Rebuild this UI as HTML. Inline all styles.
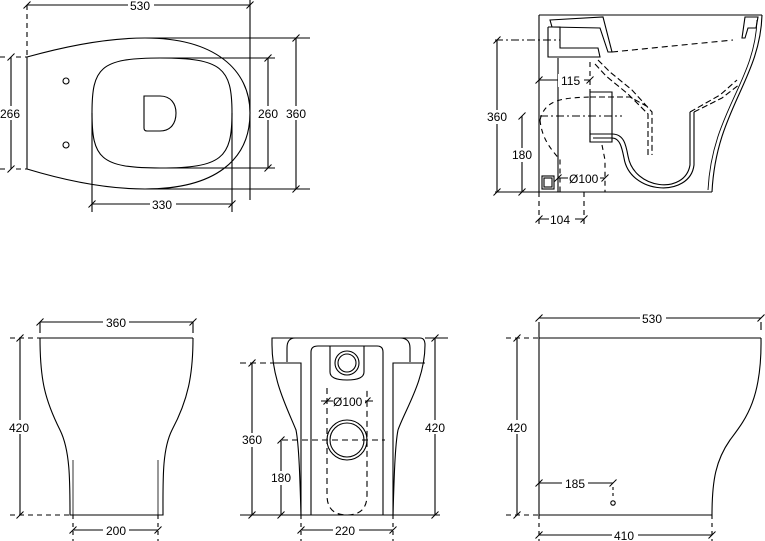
<!DOCTYPE html>
<html><head><meta charset="utf-8"><style>
html,body{margin:0;padding:0;background:#fff}
svg{display:block}
text{font-family:"Liberation Sans",Arial,sans-serif;font-size:12px;fill:#000}
</style></head><body>
<svg width="765" height="541" viewBox="0 0 765 541" xmlns="http://www.w3.org/2000/svg">
<defs><path id="t" d="M-3.5,3.5 L3.5,-3.5" stroke="#000" stroke-width="1"/></defs>
<g fill="none" stroke="#000" stroke-width="1.1">
<path d="M27,57 C70,45 110,38 145,38 C215,38 250,70 250,113 C250,160 215,189 145,189 C110,189 70,182 27,169 Z"/>
<path d="M92,113 C92,68 100,58 160,58 C222,58 232,68 232,113 C232,158 222,168 160,168 C100,168 92,158 92,113 Z"/>
<path d="M144,96 H160 C171,96 176,104 176,113 C176,123 171,131 160,131 H147 Q144,131 144,128 Z"/>
<circle cx="66" cy="81" r="3"/><circle cx="66" cy="145" r="3"/>
<path d="M27,5 V57" stroke-dasharray="5,4"/>
<path d="M27,5 H250 M250,0 V200"/>
<path d="M0,57 H8 M16,57 H27 M0,169 H8 M16,169 H27" stroke-dasharray="5,4"/>
<path d="M11,57 V169"/>
<path d="M160,58 H275 M160,168 H275 M268,58 V168"/>
<path d="M145,38 H310 M145,189 H310 M296,38 V189"/>
<path d="M92,113 V212 M232,113 V212 M92,204 H232"/>
<path d="M539,15 H762 M539,15 V192 M558,58 V192"/>
<path d="M762,15 C760,80 716,110 712,192"/>
<path d="M757,20 C755,82 712,112 708,190" stroke-width="0.9"/>
<path d="M550,20 L603,17 L612,52 L608,52 L600,28 L552,27 Z"/>
<path d="M745,17 L758,17 L756,28 L748,28 L745,38 L742,38 Z"/>
<path d="M548,27 H560 V48 H598 L600,57 H558 M548,27 V57 H558"/>
<path d="M612,52 L733,40" stroke-dasharray="6,4"/>
<path d="M590,130 V142 M590,134 H612 C624,134 626,145 628,156 C634,190 685,195 690,165 V112 M593,138 H612 C620,138 622,148 624,158 C630,195 690,198 694,165 V112"/>
<path d="M590,92 H612 V142 H590 Z"/>
<path d="M598,60 L610,72 L632,90 L652,112 V155 M595,64 L606,76 L628,94 L648,114 V155 M590,97 H630 L650,108" stroke-dasharray="6,3"/>
<path d="M690,112 L720,95 L737,80 M694,112 L722,98 L740,84" stroke-dasharray="6,3"/>
<path d="M540,120 C545,100 560,98 590,97 M540,120 C542,140 552,150 560,160 V192 M602,145 L605,160 V192 M590,62 V92" stroke-dasharray="5,4"/>
<rect x="542" y="176" width="12" height="13"/><rect x="544" y="178" width="8" height="9"/>
<path d="M495,40 H560 M540,116 H622" stroke-dasharray="8,3,2,3"/>
<path d="M495,192 H712"/>
<path d="M497,40 V192 M522,116 V192"/>
<path d="M539,80 H590 M558,178 H605"/>
<path d="M539,192 V225 M584,192 V225" stroke-dasharray="5,4"/>
<path d="M539,219 H584"/>
<path d="M40,338 H193 M40,338 C40,380 45,400 60,430 C70,450 70,480 70,515 H163 C163,480 162,450 172,430 C188,400 193,375 193,338"/>
<path d="M73,460 V515 M158,460 V515" stroke-width="0.8"/>
<path d="M40,322 H193 M40,322 V333 M193,322 V333"/>
<path d="M10,338 H40 M10,515 H70" stroke-dasharray="5,4"/>
<path d="M20,338 V515"/>
<path d="M73,515 V541 M158,515 V541" stroke-dasharray="4,4"/>
<path d="M73,530 H158"/>
<path d="M272,338 Q272,338 275,338 H420 Q425,338 425,345 C425,380 405,410 398,430 C395,445 394,480 393,515 H301 C300,480 299,445 296,430 C288,410 272,380 272,345 Z"/>
<path d="M287,362 V348 Q287,338 295,338 M410,362 V348 Q410,338 400,338 M272,363 H301 V515 M425,363 H393 V515"/>
<path d="M311,515 V352 Q311,346 318,346 H377 Q383,346 383,352 V515"/>
<path d="M330,346 V372 Q330,380 347,380 Q364,380 364,372 V346"/>
<circle cx="347" cy="363" r="12"/><circle cx="347" cy="363" r="9"/>
<circle cx="347" cy="440" r="20"/><circle cx="347" cy="440" r="17"/>
<path d="M327,388 V495 Q327,515 347,515 Q367,515 367,495 V388" stroke-dasharray="6,4"/>
<path d="M240,515 H440"/>
<path d="M240,363 H272 M282,440 H385" stroke-dasharray="6,4"/>
<path d="M425,338 H448 M252,363 V515 M281,440 V515 M435,338 V515"/>
<path d="M301,515 V541 M393,515 V541" stroke-dasharray="4,4"/>
<path d="M301,530 H393 M321,401 H373"/>
<path d="M539,338 H761 M539,338 V515 H712 M761,338 C762,400 745,420 730,440 C716,460 712,480 712,515"/>
<path d="M539,318 H761 M539,322 V338 M761,322 V330"/>
<path d="M506,338 H539 M506,515 H539" stroke-dasharray="5,4"/>
<path d="M517,338 V515"/>
<path d="M539,515 V541 M712,515 V541" stroke-dasharray="4,4"/>
<path d="M539,535 H712 M539,483 H613"/>
<path d="M613,487 V498" stroke-dasharray="3,3"/>
<circle cx="613" cy="503" r="2.2"/>
</g>
<g>
<use href="#t" x="27" y="5"/><use href="#t" x="250" y="5"/>
<use href="#t" x="11" y="57"/><use href="#t" x="11" y="169"/>
<use href="#t" x="268" y="58"/><use href="#t" x="268" y="168"/>
<use href="#t" x="296" y="38"/><use href="#t" x="296" y="189"/>
<use href="#t" x="92" y="204"/><use href="#t" x="232" y="204"/>
<use href="#t" x="497" y="40"/><use href="#t" x="497" y="192"/>
<use href="#t" x="522" y="116"/><use href="#t" x="522" y="192"/>
<use href="#t" x="539" y="80"/><use href="#t" x="590" y="80"/>
<use href="#t" x="558" y="178"/><use href="#t" x="605" y="178"/>
<use href="#t" x="539" y="219"/><use href="#t" x="584" y="219"/>
<use href="#t" x="40" y="322"/><use href="#t" x="193" y="322"/>
<use href="#t" x="20" y="338"/><use href="#t" x="20" y="515"/>
<use href="#t" x="73" y="530"/><use href="#t" x="158" y="530"/>
<use href="#t" x="252" y="363"/><use href="#t" x="252" y="515"/>
<use href="#t" x="281" y="440"/><use href="#t" x="281" y="515"/>
<use href="#t" x="435" y="338"/><use href="#t" x="435" y="515"/>
<use href="#t" x="301" y="530"/><use href="#t" x="393" y="530"/>
<use href="#t" x="327" y="401"/><use href="#t" x="367" y="401"/>
<use href="#t" x="539" y="318"/><use href="#t" x="761" y="318"/>
<use href="#t" x="517" y="338"/><use href="#t" x="517" y="515"/>
<use href="#t" x="539" y="535"/><use href="#t" x="712" y="535"/>
<use href="#t" x="539" y="483"/><use href="#t" x="613" y="483"/>
</g>
<g>
<rect x="128" y="0" width="26" height="12" fill="#fff"/><text x="130" y="10">530</text>
<rect x="0" y="106" width="22" height="14" fill="#fff"/><text x="0" y="118">266</text>
<rect x="257" y="106" width="22" height="14" fill="#fff"/><text x="258" y="118">260</text>
<rect x="285" y="106" width="24" height="14" fill="#fff"/><text x="286" y="118">360</text>
<rect x="150" y="198" width="26" height="13" fill="#fff"/><text x="152" y="209">330</text>
<rect x="485" y="110" width="24" height="14" fill="#fff"/><text x="487" y="121">360</text>
<rect x="511" y="148" width="22" height="14" fill="#fff"/><text x="512" y="159">180</text>
<rect x="558" y="74" width="26" height="13" fill="#fff"/><text x="561" y="85">115</text>
<rect x="568" y="172" width="32" height="13" fill="#fff"/><text x="569" y="183">Ø100</text>
<rect x="549" y="213" width="26" height="13" fill="#fff"/><text x="550" y="224">104</text>
<rect x="103" y="316" width="26" height="13" fill="#fff"/><text x="106" y="327">360</text>
<rect x="8" y="420" width="24" height="14" fill="#fff"/><text x="9" y="432">420</text>
<rect x="103" y="524" width="26" height="13" fill="#fff"/><text x="106" y="535">200</text>
<rect x="240" y="433" width="24" height="14" fill="#fff"/><text x="242" y="444">360</text>
<rect x="270" y="471" width="22" height="14" fill="#fff"/><text x="271" y="482">180</text>
<rect x="424" y="420" width="24" height="14" fill="#fff"/><text x="425" y="432">420</text>
<rect x="333" y="395" width="32" height="13" fill="#fff"/><text x="333" y="406">Ø100</text>
<rect x="333" y="524" width="26" height="13" fill="#fff"/><text x="335" y="535">220</text>
<rect x="640" y="312" width="26" height="13" fill="#fff"/><text x="642" y="323">530</text>
<rect x="505" y="420" width="24" height="14" fill="#fff"/><text x="507" y="432">420</text>
<rect x="562" y="477" width="26" height="13" fill="#fff"/><text x="565" y="488">185</text>
<rect x="612" y="529" width="26" height="13" fill="#fff"/><text x="614" y="540">410</text>
</g>
</svg>
</body></html>
